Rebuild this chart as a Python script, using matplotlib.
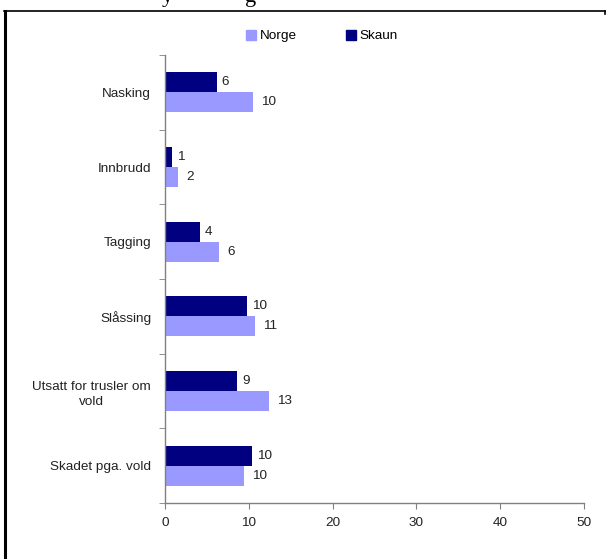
import matplotlib
matplotlib.use("Agg")
import matplotlib.pyplot as plt
from matplotlib.lines import Line2D
from matplotlib.patches import Patch

categories = ["Nasking", "Innbrudd", "Tagging", "Slåssing",
              "Utsatt for trusler om\nvold", "Skadet pga. vold"]
norge = [10.5, 1.6, 6.4, 10.7, 12.4, 9.4]
skaun = [6.2, 0.85, 4.2, 9.8, 8.6, 10.4]
norge_labels = ["10", "2", "6", "11", "13", "10"]
skaun_labels = ["6", "1", "4", "10", "9", "10"]
xticks = [0, 10, 20, 30, 40, 50]

plt.rcParams['font.family'] = ['Liberation Sans', 'DejaVu Sans']

W, H = 606, 559
FS = 9.7
fig = plt.figure(figsize=(W / 100, H / 100), dpi=100)
ax = fig.add_axes([165 / W, 1 - 503 / H, (584 - 165) / W, (503 - 55) / H])

norge_c = "#9999FF"
skaun_c = "#000080"
bh = 0.27
ys = list(range(len(categories)))
ax.barh([y - bh / 2 for y in ys], skaun, height=bh, color=skaun_c, label="Skaun")
ax.barh([y + bh / 2 for y in ys], norge, height=bh, color=norge_c, label="Norge")

for y, v, t in zip(ys, skaun, skaun_labels):
    ax.annotate(t, (v, y - bh / 2), xytext=(3.5, 0), textcoords="offset points",
                va="center", ha="left", fontsize=FS, color="#222222")
for y, v, t in zip(ys, norge, norge_labels):
    ax.annotate(t, (v, y + bh / 2), xytext=(6, 0), textcoords="offset points",
                va="center", ha="left", fontsize=FS, color="#222222")

ax.set_xlim(0, 50)
ax.set_ylim(len(categories) - 0.5, -0.5)
ax.set_xticks(xticks)
ax.set_xticklabels([str(x) for x in xticks], fontsize=FS, color="#222222")
ax.set_yticks(ys)
ax.set_yticklabels(categories, fontsize=FS, color="#222222", multialignment="center",
                   linespacing=1.35)
ax.tick_params(axis="y", length=0, pad=10)
ax.set_yticks([y + 0.5 for y in range(-1, len(categories))], minor=True)
ax.tick_params(axis="y", which="minor", length=4, color="#808080", direction="out")
ax.tick_params(axis="x", length=4, color="#808080", direction="out", pad=6)
for s in ["top", "right"]:
    ax.spines[s].set_visible(False)
for s in ["left", "bottom"]:
    ax.spines[s].set_color("#808080")
    ax.spines[s].set_linewidth(1)

handles = [Patch(color=norge_c, label="Norge"), Patch(color=skaun_c, label="Skaun")]
fig.legend(handles=handles, loc="center", bbox_to_anchor=(322 / W, 1 - 36 / H),
           ncol=2, frameon=False, fontsize=FS, handlelength=0.75, handleheight=0.75,
           handletextpad=0.3, columnspacing=3.6)

# page border fragments
fig.add_artist(Line2D([5 / W, 5 / W], [0, 1 - 11 / H], transform=fig.transFigure,
                      color="black", lw=2.2))
fig.add_artist(Line2D([4 / W, 605 / W], [1 - 11 / H, 1 - 11 / H], transform=fig.transFigure,
                      color="black", lw=1.2))
fig.add_artist(Line2D([605 / W, 605 / W], [1 - 11 / H, 1 - 14 / H], transform=fig.transFigure,
                      color="black", lw=1.2))
# clipped title descenders
fig.text(162 / W, 1 - 2 / H, "y", fontsize=16, family="Liberation Serif", va="baseline")
fig.text(245 / W, 1 - 2 / H, "g", fontsize=16, family="Liberation Serif", va="baseline")

fig.savefig("out.png", dpi=100)
